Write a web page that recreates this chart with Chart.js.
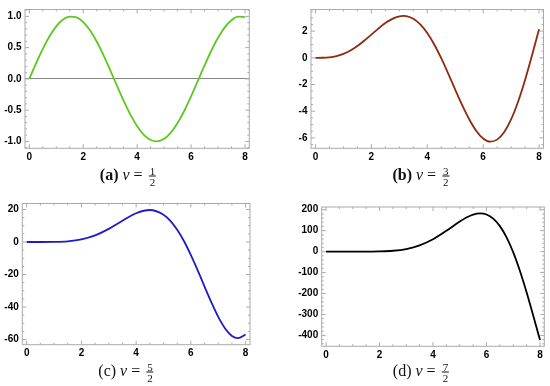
<!DOCTYPE html>
<html>
<head>
<meta charset="utf-8">
<script src="https://cdn.jsdelivr.net/npm/chart.js@4.4.1/dist/chart.umd.min.js"></script>
<style>
  body { margin: 0; background: #fff; width: 550px; height: 386px; position: relative; overflow: hidden; }
  canvas { position: absolute; }
  .cap { position: absolute; font-family: "Liberation Serif", "DejaVu Serif", serif; font-size: 16px; color: #111;
         white-space: nowrap; transform: translate(-50%, -50%); }
  .frac { display: inline-block; vertical-align: middle; text-align: center; font-size: 11px; line-height: 10px; margin-left: 2px; }
  .frac span { display: block; padding: 0 1px; }
  .frac span:first-child { border-bottom: 1px solid #111; }
</style>
</head>
<body>
<canvas id="ca" width="275" height="170" style="left:0;top:0"></canvas>
<canvas id="cb" width="275" height="170" style="left:275px;top:0"></canvas>
<canvas id="cc" width="275" height="170" style="left:0;top:193px"></canvas>
<canvas id="cd" width="275" height="170" style="left:275px;top:193px"></canvas>

<div class="cap" style="left:128px;top:176px"><b>(a)</b> <i>ν</i> = <span class="frac"><span>1</span><span>2</span></span></div>
<div class="cap" style="left:421px;top:176px"><b>(b)</b> <i>ν</i> = <span class="frac"><span>3</span><span>2</span></span></div>
<div class="cap" style="left:126px;top:372px">(c) <i>ν</i> = <span class="frac"><span>5</span><span>2</span></span></div>
<div class="cap" style="left:421px;top:372px">(d) <i>ν</i> = <span class="frac"><span>7</span><span>2</span></span></div>

<script>
// tick values
const xTicks = [0, 2, 4, 6, 8];
const yTicksA = [-1, -0.5, 0, 0.5, 1];
const yTicksB = [-6, -4, -2, 0, 2];
const yTicksC = [-60, -40, -20, 0, 20];
const yTicksD = [-400, -300, -200, -100, 0, 100, 200];

// (a) nu = 1/2
const xA = [0, 0.25, 0.5, 0.75, 1, 1.25, 1.5, 1.75, 2, 2.25, 2.5, 2.75, 3, 3.25, 3.5, 3.75, 4,
            4.25, 4.5, 4.75, 5, 5.25, 5.5, 5.75, 6, 6.25, 6.5, 6.75, 7, 7.25, 7.5, 7.75, 8];
const yA = [0, 0.247, 0.479, 0.682, 0.841, 0.949, 0.997, 0.984, 0.909, 0.778, 0.598, 0.382, 0.141, -0.108, -0.351, -0.572, -0.757,
            -0.895, -0.978, -0.999, -0.959, -0.859, -0.706, -0.509, -0.279, -0.033, 0.215, 0.450, 0.657, 0.824, 0.938, 0.995, 0.989];
// (b) nu = 3/2
const xB = [0, 0.25, 0.5, 0.75, 1, 1.25, 1.5, 1.75, 2, 2.25, 2.5, 2.75, 3, 3.14, 3.25, 3.5, 3.75, 4,
            4.25, 4.5, 4.75, 5, 5.25, 5.5, 5.75, 6, 6.25, 6.5, 6.75, 7, 7.25, 7.5, 7.75, 8];
const yB = [0, 0.005, 0.04, 0.13, 0.30, 0.55, 0.89, 1.30, 1.74, 2.19, 2.60, 2.92, 3.11, 3.14, 3.12, 2.93, 2.51, 1.86,
            1.00, -0.03, -1.18, -2.38, -3.55, -4.60, -5.46, -6.04, -6.28, -6.13, -5.58, -4.62, -3.29, -1.66, 0.19, 2.15];
// (c) nu = 5/2
const xC = [0, 0.5, 1, 1.5, 2, 2.5, 3, 3.5, 4, 4.5, 5, 5.25, 5.5, 5.75, 6, 6.25, 6.5, 6.75, 7, 7.25, 7.5, 7.72, 8];
const yC = [0, 0, 0.06, 0.43, 1.59, 4.06, 8.06, 13.1, 17.7, 19.7, 16.8, 13.0, 7.5, 0.45, -8.1, -17.5, -27.5, -37.2, -46.1, -53.2, -57.8, -59.2, -56.9];
// (d) nu = 7/2
const xD = [0, 0.5, 1, 1.5, 2, 2.5, 3, 3.5, 4, 4.5, 5, 5.25, 5.5, 5.76, 6, 6.25, 6.5, 6.75, 7, 7.25, 7.5, 7.75, 8];
const yD = [0, 0, 0.01, 0.14, 0.97, 4.06, 12.3, 29.5, 58.7, 99.1, 143.6, 162.9, 176.9, 182.6, 177.2, 157.6, 121.7, 68.0, -3.9, -92.9, -195.3, -307.2, -422];

const FRAME = '#aaaaaa';

// Mathematica-style frame with inward major/minor ticks on all sides
const framePlugin = {
  id: 'frame',
  beforeDatasetsDraw(chart, args, opts) {
    const { ctx, chartArea: a, scales } = chart;
    ctx.save();
    ctx.strokeStyle = FRAME;
    ctx.lineWidth = 1;
    ctx.strokeRect(a.left, a.top, a.right - a.left, a.bottom - a.top);
    const drawTicks = (scale, div, horiz) => {
      const vals = scale.ticks.map(t => t.value);
      const step = vals[1] - vals[0];
      const minor = step / div;
      let v = Math.ceil(scale.min / minor) * minor;
      for (; v <= scale.max + 1e-9; v += minor) {
        const isMajor = Math.abs(v / step - Math.round(v / step)) < 1e-6;
        const len = isMajor ? 4 : 2;
        const p = scale.getPixelForValue(v);
        ctx.beginPath();
        if (horiz) {
          ctx.moveTo(p, a.bottom); ctx.lineTo(p, a.bottom - len);
          ctx.moveTo(p, a.top); ctx.lineTo(p, a.top + len);
        } else {
          ctx.moveTo(a.left, p); ctx.lineTo(a.left + len, p);
          ctx.moveTo(a.right, p); ctx.lineTo(a.right - len, p);
        }
        ctx.stroke();
      }
    };
    drawTicks(scales.x, opts.xDiv, true);
    drawTicks(scales.y, opts.yDiv, false);
    ctx.restore();
  }
};

function makePanel(id, xs, ys, color, yTicks, yMin, yMax, area, yDiv, fmt, zeroLine) {
  const W = 275, H = 170;
  const tickFont = { family: '"Liberation Sans", Arial, sans-serif', size: 10, weight: 'bold' };
  new Chart(document.getElementById(id), {
    type: 'line',
    data: {
      datasets: [{
        data: xs.map((x, i) => ({ x: x, y: ys[i] })),
        borderColor: color,
        borderWidth: 1.8,
        pointRadius: 0,
        cubicInterpolationMode: 'monotone',
        fill: false
      }]
    },
    options: {
      responsive: false,
      animation: false,
      layout: { padding: { left: 0, top: area.t, right: W - area.r, bottom: 0 } },
      plugins: { legend: { display: false }, tooltip: { enabled: false }, frame: { xDiv: 4, yDiv: yDiv } },
      scales: {
        x: {
          type: 'linear', min: -0.16, max: 8.16,
          afterBuildTicks: s => { s.ticks = xTicks.map(v => ({ value: v })); },
          afterFit: s => { s.height = H - area.b; },
          grid: { display: false, drawTicks: false },
          border: { display: false },
          ticks: { font: tickFont, color: '#000', padding: 3, maxRotation: 0, autoSkip: false }
        },
        y: {
          type: 'linear', min: yMin, max: yMax,
          afterBuildTicks: s => { s.ticks = yTicks.map(v => ({ value: v })); },
          afterFit: s => { s.width = area.l; },
          grid: {
            display: zeroLine, drawTicks: false,
            color: c => (c.tick && c.tick.value === 0) ? '#888888' : 'rgba(0,0,0,0)'
          },
          border: { display: false },
          ticks: { font: tickFont, color: '#000', padding: 3.5, autoSkip: false, callback: fmt }
        }
      }
    },
    plugins: [framePlugin]
  });
}

const intFmt = v => String(v);
makePanel('ca', xA, yA, '#5cc81e', yTicksA, -1.11, 1.11, { l: 25, t: 8, r: 249.3, b: 148.3 }, 5, v => v.toFixed(1), true);
makePanel('cb', xB, yB, '#8f2a0c', yTicksB, -6.78, 3.62, { l: 36, t: 5, r: 268.5, b: 148.3 }, 4, intFmt, false);
makePanel('cc', xC, yC, '#1c1cc8', yTicksC, -63.2, 23.7, { l: 22.3, t: 10.5, r: 250, b: 151.7 }, 4, intFmt, false);
makePanel('cd', xD, yD, '#000000', yTicksD, -452, 213, { l: 46.7, t: 14, r: 269.3, b: 153.3 }, 5, intFmt, false);
</script>
</body>
</html>
